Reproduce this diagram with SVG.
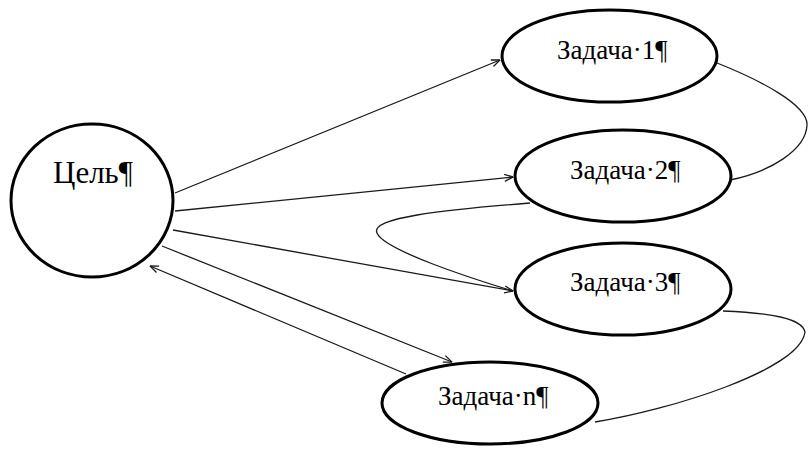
<svg xmlns="http://www.w3.org/2000/svg" width="808" height="450" viewBox="0 0 808 450">
  <style>
    .node { fill: #ffffff; stroke: #000000; stroke-width: 3; }
    .lbl { font-family: "Liberation Serif", "Times New Roman", serif; font-size: 27px; fill: #000000; }
    .big { font-size: 31px; }
    .edge { fill: none; stroke: #1a1a1a; stroke-width: 1.3; }
  </style>
  <defs>
    <marker id="arr" viewBox="0 0 10 10" refX="9.5" refY="5" markerWidth="10" markerHeight="10" markerUnits="userSpaceOnUse" orient="auto">
      <path d="M1,1.5 L9.5,5 L1,8.5" fill="none" stroke="#1a1a1a" stroke-width="1.3"/>
    </marker>
  </defs>

  <g id="connectors">
    <line class="edge" x1="175" y1="193" x2="500" y2="60" marker-end="url(#arr)"/>
    <line class="edge" x1="175" y1="211" x2="513" y2="177" marker-end="url(#arr)"/>
    <line class="edge" x1="173" y1="230" x2="513" y2="291" marker-end="url(#arr)"/>
    <line class="edge" x1="162" y1="246" x2="452" y2="362" marker-end="url(#arr)"/>
    <line class="edge" x1="406" y1="374" x2="150" y2="266" marker-end="url(#arr)"/>
    <path class="edge" d="M717,63 C760,80 808,105 807,125 C806,150 770,172 730,180"/>
    <path class="edge" d="M530,203 C440,210 370,218 377,233 C384,250 470,278 513,291"/>
    <path class="edge" d="M723,311 C770,313 802,318 805,332 C800,370 670,410 595,422"/>
  </g>

  <g id="goal">
    <ellipse class="node" cx="92" cy="200.5" rx="81" ry="76.5"/>
    <text class="lbl big" x="53" y="183">Цель¶</text>
  </g>
  <g id="task1">
    <ellipse class="node" cx="609.5" cy="56" rx="107.5" ry="46"/>
    <text class="lbl" x="557" y="59">Задача·1¶</text>
  </g>
  <g id="task2">
    <ellipse class="node" cx="623" cy="176" rx="108" ry="46"/>
    <text class="lbl" x="570" y="179">Задача·2¶</text>
  </g>
  <g id="task3">
    <ellipse class="node" cx="623" cy="289" rx="108" ry="46"/>
    <text class="lbl" x="570" y="291">Задача·3¶</text>
  </g>
  <g id="taskn">
    <ellipse class="node" cx="490" cy="403" rx="108" ry="41"/>
    <text class="lbl" x="438" y="405">Задача·n¶</text>
  </g>
</svg>
